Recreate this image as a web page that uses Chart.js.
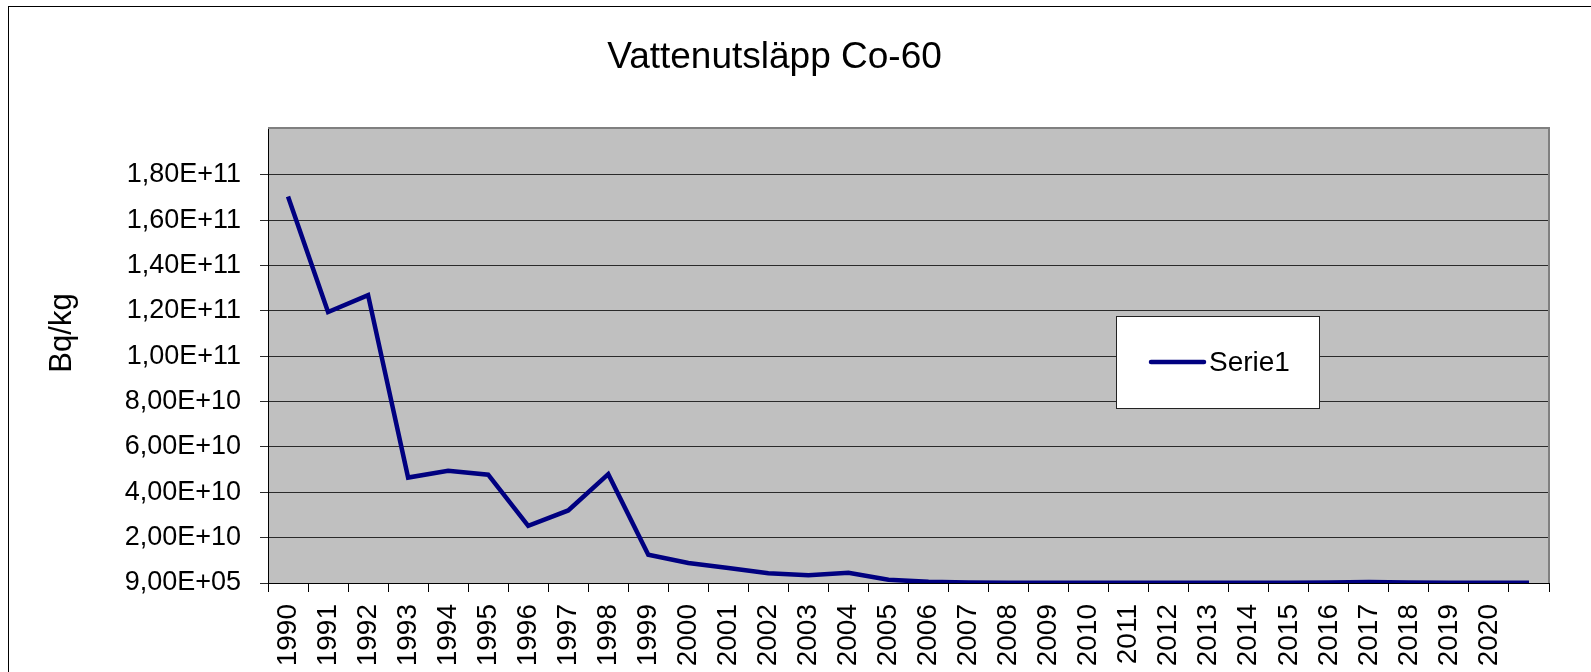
<!DOCTYPE html>
<html>
<head>
<meta charset="utf-8">
<script src="https://cdn.jsdelivr.net/npm/chart.js@4/dist/chart.umd.min.js"></script>
<style>
  html, body { margin: 0; padding: 0; background: #fff; }
  #wrap { width: 1591px; height: 672px; position: relative; }
</style>
</head>
<body>
<div id="wrap"><canvas id="chart" width="1591" height="672"></canvas></div>
<script>
(function(){
  'use strict';

  const years = ['1990','1991','1992','1993','1994','1995','1996','1997','1998','1999',
                 '2000','2001','2002','2003','2004','2005','2006','2007','2008','2009',
                 '2010','2011','2012','2013','2014','2015','2016','2017','2018','2019',
                 '2020',''];
  const serie1 = [1.705e11, 1.195e11, 1.27e11, 4.65e10, 4.95e10, 4.78e10, 2.52e10, 3.2e10, 4.8e10, 1.25e10,
                  8.8e9, 6.6e9, 4.3e9, 3.4e9, 4.5e9, 1.4e9, 5e8, 2e8, 1e8, 1e8,
                  1e8, 1e8, 1e8, 1e8, 1e8, 1e8, 2e8, 4e8, 2e8, 1e8,
                  1e8, 1e8];
  const yTicks = [9e5, 2e10, 4e10, 6e10, 8e10, 1e11, 1.2e11, 1.4e11, 1.6e11, 1.8e11];
  const yTickLabels = ['9,00E+05','2,00E+10','4,00E+10','6,00E+10','8,00E+10',
                       '1,00E+11','1,20E+11','1,40E+11','1,60E+11','1,80E+11'];

  const FONT = "'Liberation Sans', Arial, sans-serif";

  // white page, outer frame and grey plot area
  const backdrop = {
    id: 'backdrop',
    beforeDraw(c){
      const {ctx, chartArea:a} = c;
      ctx.save();
      ctx.fillStyle = '#fff'; ctx.fillRect(0, 0, c.width, c.height);
      ctx.strokeStyle = '#000'; ctx.lineWidth = 1;
      ctx.strokeRect(8.5, 6.5, c.width + 50, c.height + 50);
      ctx.fillStyle = '#c0c0c0'; ctx.fillRect(a.left, a.top, a.width, a.height);
      ctx.restore();
    },
    afterDraw(c){
      const {ctx, chartArea:a} = c;
      ctx.save();
      ctx.strokeStyle = '#808080'; ctx.lineWidth = 2;
      ctx.beginPath();
      ctx.moveTo(a.left, a.top); ctx.lineTo(a.right, a.top); ctx.lineTo(a.right, a.bottom);
      ctx.stroke();
      // y axis title
      ctx.fillStyle = '#000'; ctx.font = '31px ' + FONT;
      ctx.translate(62, 333); ctx.rotate(-Math.PI/2);
      ctx.textAlign = 'center'; ctx.textBaseline = 'middle';
      ctx.fillText('Bq/kg', 0, 0);
      ctx.restore();
    }
  };

  // legend box floating inside the plot
  const floatLegend = {
    id: 'floatLegend',
    afterDraw(c){
      const ctx = c.ctx, ds = c.data.datasets[0];
      ctx.save();
      ctx.fillStyle = '#fff'; ctx.fillRect(1116, 316, 203, 92);
      ctx.strokeStyle = '#222'; ctx.lineWidth = 1; ctx.strokeRect(1116.5, 316.5, 203, 92);
      ctx.strokeStyle = ds.borderColor; ctx.lineWidth = 4.5; ctx.lineCap = 'round';
      ctx.beginPath(); ctx.moveTo(1151, 362); ctx.lineTo(1204, 362); ctx.stroke();
      ctx.fillStyle = '#000'; ctx.font = '28px ' + FONT;
      ctx.textAlign = 'left'; ctx.textBaseline = 'middle';
      ctx.fillText(ds.label, 1209, 363);
      ctx.restore();
    }
  };

  new Chart(document.getElementById('chart'), {
    type: 'line',
    data: {
      labels: years,
      datasets: [{ label: 'Serie1', data: serie1, borderColor: '#000080', backgroundColor: '#000080',
                   borderWidth: 4.5, pointRadius: 0, tension: 0, fill: false }]
    },
    options: {
      responsive: false,
      animation: false,
      layout: { padding: { left: 0, right: 42, top: 0, bottom: 0 } },
      plugins: {
        legend: { display: false },
        tooltip: { enabled: false },
        title: { display: true, text: 'Vattenutsläpp Co-60', color: '#000',
                 font: { family: FONT, size: 37, weight: 'normal' }, padding: { top: 36, bottom: 47.6 } }
      },
      scales: {
        x: {
          offset: true,
          grid: { offset: true, drawOnChartArea: false, drawTicks: true, tickLength: 9, color: '#000' },
          border: { display: true, color: '#000', width: 1 },
          ticks: { color: '#000', font: { family: FONT, size: 28 }, padding: 12,
                   autoSkip: false, minRotation: 90, maxRotation: 90 },
          afterFit(s){ s.height = 89; }
        },
        y: {
          min: 9e5, max: 2.007e11,
          grid: { color: '#2a2a2a', lineWidth: 1, tickLength: 8 },
          border: { display: true, color: '#000', width: 1 },
          ticks: { color: '#000', font: { family: FONT, size: 27 }, padding: 19,
                   callback: (v) => { const i = yTicks.indexOf(v); return i < 0 ? '' : yTickLabels[i]; } },
          afterBuildTicks(s){ s.ticks = yTicks.map(v => ({ value: v })); },
          afterFit(s){ s.width = 268; }
        }
      }
    },
    plugins: [backdrop, floatLegend]
  });
})();
</script>
</body>
</html>
